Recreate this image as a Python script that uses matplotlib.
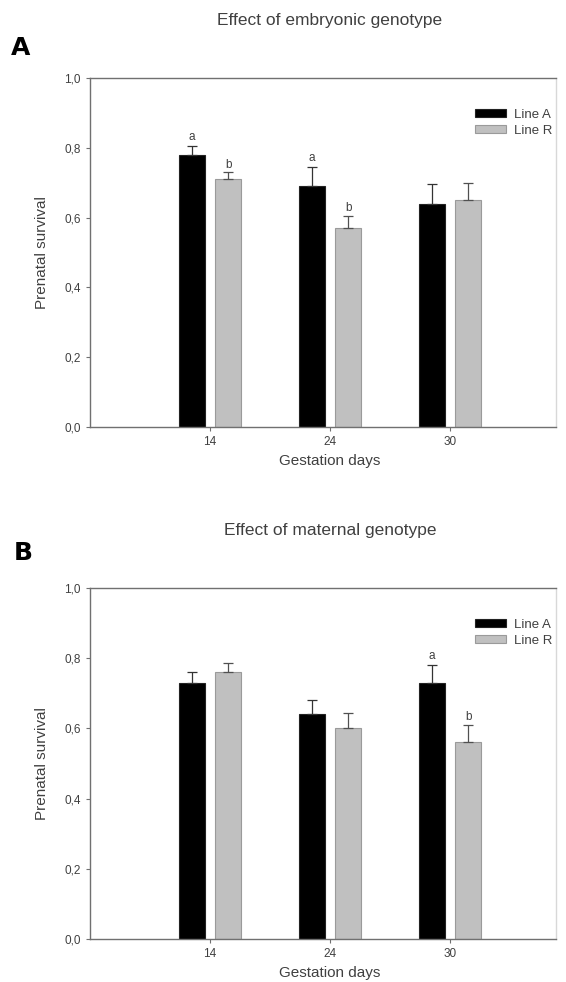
import numpy as np
import matplotlib
matplotlib.use("Agg")
import matplotlib.pyplot as plt

plt.rcParams["font.family"] = ["Liberation Sans", "DejaVu Sans"]

days = ["14", "24", "30"]
series = ["Line A", "Line R"]

# panel A: effect of embryonic genotype
emb_a = [0.78, 0.69, 0.64]
emb_a_err = [0.025, 0.055, 0.055]
emb_r = [0.71, 0.57, 0.65]
emb_r_err = [0.02, 0.035, 0.05]
emb_letters_a = ["a", "a", ""]
emb_letters_r = ["b", "b", ""]

# panel B: effect of maternal genotype
mat_a = [0.73, 0.64, 0.73]
mat_a_err = [0.03, 0.042, 0.05]
mat_r = [0.76, 0.60, 0.56]
mat_r_err = [0.027, 0.043, 0.05]
mat_letters_a = ["", "", "a"]
mat_letters_r = ["", "", "b"]

yticks = [0.0, 0.2, 0.4, 0.6, 0.8, 1.0]
ytick_labels = ["0,0", "0,2", "0,4", "0,6", "0,8", "1,0"]

TXT = "#404040"
AX = "#707070"
GREY = "#c0c0c0"


def draw_panel(ax, va, va_err, vr, vr_err, let_a, let_r):
    x = np.arange(len(days))
    w = 0.215
    off = 0.15
    ax.bar(x - off, va, w, color="black", edgecolor="#222222", linewidth=0.8,
           label=series[0], zorder=2)
    ax.bar(x + off, vr, w, color=GREY, edgecolor="#9a9a9a", linewidth=0.8,
           label=series[1], zorder=2)
    ax.errorbar(x - off, va, yerr=[np.zeros(len(va)), va_err], fmt="none",
                ecolor="#333333", elinewidth=0.9, capsize=3.7, capthick=0.9, zorder=3)
    ax.errorbar(x + off, vr, yerr=[np.zeros(len(vr)), vr_err], fmt="none",
                ecolor="#505050", elinewidth=0.9, capsize=3.7, capthick=0.9, zorder=3)
    for i in range(len(days)):
        if let_a[i]:
            ax.text(x[i] - off, va[i] + va_err[i] + 0.008, let_a[i], ha="center",
                    va="bottom", fontsize=8.5, color=TXT)
        if let_r[i]:
            ax.text(x[i] + off, vr[i] + vr_err[i] + 0.004, let_r[i], ha="center",
                    va="bottom", fontsize=8.5, color=TXT)

    ax.set_xlim(-1, 2.88)
    ax.set_ylim(0, 1.0)
    ax.set_xticks(x)
    ax.set_xticklabels(days)
    ax.set_yticks(yticks)
    ax.set_yticklabels(ytick_labels)
    ax.tick_params(axis="both", labelsize=8.5, labelcolor=TXT, color=AX,
                   length=3, width=0.8, direction="out")
    for s in ax.spines.values():
        s.set_color(AX)
        s.set_linewidth(1.0)
    ax.spines["right"].set_color("#d8d8d8")
    ax.set_xlabel("Gestation days", fontsize=11, color=TXT)
    ax.xaxis.set_label_coords(0.515, -0.078)
    ax.set_ylabel("Prenatal survival", fontsize=11, color=TXT)
    ax.yaxis.set_label_coords(-0.088, 0.5)
    leg = ax.legend(loc="upper right", frameon=False, fontsize=9.5,
                    handlelength=2.4, handleheight=0.6, labelspacing=0.3,
                    handletextpad=0.55, borderaxespad=0.0, borderpad=0.0,
                    bbox_to_anchor=(0.992, 0.912))
    for t in leg.get_texts():
        t.set_color(TXT)


fig = plt.figure(figsize=(5.66, 9.82), dpi=100)
ax1 = fig.add_axes([0.159, 0.5652, 0.823, 0.3554])
ax2 = fig.add_axes([0.159, 0.0438, 0.823, 0.3574])

draw_panel(ax1, emb_a, emb_a_err, emb_r, emb_r_err, emb_letters_a, emb_letters_r)
draw_panel(ax2, mat_a, mat_a_err, mat_r, mat_r_err, mat_letters_a, mat_letters_r)

fig.text(330 / 566, 1 - 20 / 982, "Effect of embryonic genotype", ha="center",
         va="center", fontsize=12.5, color=TXT)
fig.text(330 / 566, 1 - 530 / 982, "Effect of maternal genotype", ha="center",
         va="center", fontsize=12.5, color=TXT)
fig.text(0.02, 1 - 48 / 982, "A", ha="left", va="center", fontsize=18,
         fontweight="bold", family="DejaVu Sans")
fig.text(0.024, 1 - 553 / 982, "B", ha="left", va="center", fontsize=18,
         fontweight="bold", family="DejaVu Sans")

fig.savefig("out.png", dpi=100)
